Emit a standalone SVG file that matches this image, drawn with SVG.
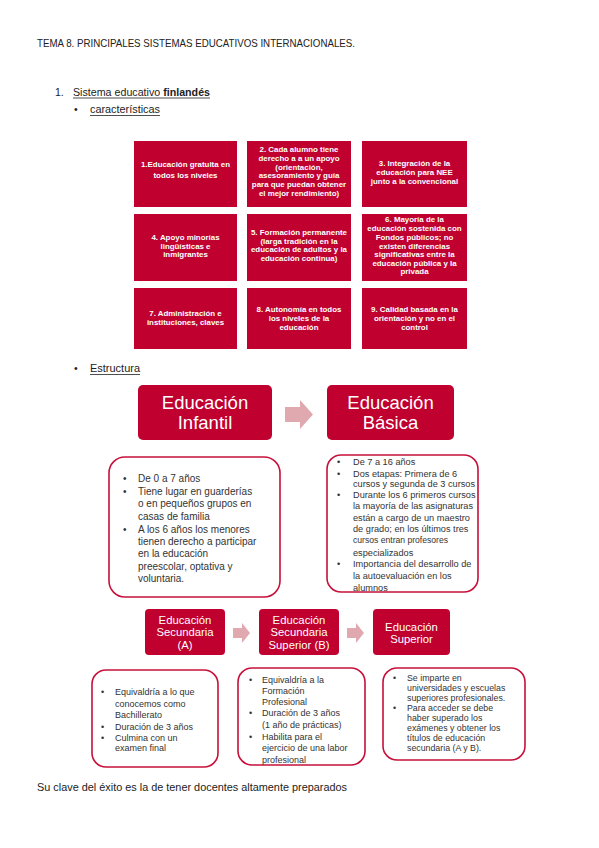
<svg xmlns="http://www.w3.org/2000/svg" width="599" height="848" viewBox="0 0 599 848">
<style>
.doc{font-family:"Liberation Sans","Open Sans",sans-serif;font-size:10.5px;fill:#222}
.cell{fill:#C0002F}
.ct{font-family:"Liberation Sans",Arial,sans-serif;font-size:7.9px;font-weight:bold;fill:#fff;text-anchor:middle}
.flow{fill:#C0002F}
.ft{font-family:"Liberation Sans",Arial,sans-serif;fill:#fff;text-anchor:middle}
.det{fill:#fff;stroke:#C8103A;stroke-width:1.6}
.dt{font-family:"Liberation Sans",Arial,sans-serif;fill:#333}
.arr{fill:#E0A9AF}
</style>
<rect width="599" height="848" fill="#fff"/>
<g id="header">
<text class="doc" x="37" y="47" textLength="318" lengthAdjust="spacingAndGlyphs">TEMA 8. PRINCIPALES SISTEMAS EDUCATIVOS INTERNACIONALES.</text>
<text class="doc" x="55" y="96">1.</text>
<text class="doc" x="73" y="96" textLength="137" lengthAdjust="spacingAndGlyphs">Sistema educativo <tspan font-weight="bold">finlandés</tspan></text>
<line x1="73" y1="98" x2="210" y2="98" stroke="#222" stroke-width="0.8"/>
<text class="doc" x="74" y="113">•</text>
<text class="doc" x="90" y="113" textLength="70" lengthAdjust="spacingAndGlyphs">características</text>
<line x1="90" y1="115.5" x2="160" y2="115.5" stroke="#222" stroke-width="0.8"/>
<text class="doc" x="74" y="372">•</text>
<text class="doc" x="90" y="372" textLength="50" lengthAdjust="spacingAndGlyphs">Estructura</text>
<line x1="90" y1="374.5" x2="140" y2="374.5" stroke="#222" stroke-width="0.8"/>
<text class="doc" x="37" y="791" textLength="310" lengthAdjust="spacingAndGlyphs">Su clave del éxito es la de tener docentes altamente preparados</text>
</g>
<g id="c1"><rect class="cell" x="134" y="141" width="103" height="66"/>
<text class="ct" x="185.5" y="167">1.Educación gratuita en</text><text class="ct" x="185.5" y="178">todos los niveles</text></g>
<g id="c2"><rect class="cell" x="247" y="141" width="104" height="66"/>
<text class="ct" x="299" y="152">2. Cada alumno tiene</text><text class="ct" x="299" y="161">derecho a  a un apoyo</text><text class="ct" x="299" y="169.5">(orientación,</text><text class="ct" x="299" y="178">asesoramiento y guía</text><text class="ct" x="299" y="187">para que puedan obtener</text><text class="ct" x="299" y="195.5">el mejor rendimiento)</text></g>
<g id="c3"><rect class="cell" x="362" y="141" width="105" height="66"/>
<text class="ct" x="414.5" y="166">3. Integración de la</text><text class="ct" x="414.5" y="175">educación para NEE</text><text class="ct" x="414.5" y="184">junto a la convencional</text></g>
<g id="c4"><rect class="cell" x="134" y="214" width="103" height="67"/>
<text class="ct" x="185.5" y="240">4. Apoyo minorías</text><text class="ct" x="185.5" y="248.5">lingüísticas e</text><text class="ct" x="185.5" y="257">inmigrantes</text></g>
<g id="c5"><rect class="cell" x="247" y="214" width="104" height="67"/>
<text class="ct" x="299" y="235">5. Formación permanente</text><text class="ct" x="299" y="243.5">(larga tradición en la</text><text class="ct" x="299" y="252">educación de adultos y la</text><text class="ct" x="299" y="261">educación continua)</text></g>
<g id="c6"><rect class="cell" x="362" y="214" width="105" height="67"/>
<text class="ct" x="414.5" y="222">6. Mayoría de la</text><text class="ct" x="414.5" y="231">educación sostenida con</text><text class="ct" x="414.5" y="240">Fondos públicos; no</text><text class="ct" x="414.5" y="248.5">existen diferencias</text><text class="ct" x="414.5" y="257">significativas entre la</text><text class="ct" x="414.5" y="265.5">educación pública y la</text><text class="ct" x="414.5" y="274">privada</text></g>
<g id="c7"><rect class="cell" x="134" y="288" width="103" height="61"/>
<text class="ct" x="185.5" y="316">7. Administración e</text><text class="ct" x="185.5" y="325">instituciones, claves</text></g>
<g id="c8"><rect class="cell" x="247" y="288" width="104" height="61"/>
<text class="ct" x="299" y="312">8. Autonomía en todos</text><text class="ct" x="299" y="321">los niveles de la</text><text class="ct" x="299" y="329.5">educación</text></g>
<g id="c9"><rect class="cell" x="362" y="288" width="105" height="61"/>
<text class="ct" x="414.5" y="312">9. Calidad basada en la</text><text class="ct" x="414.5" y="321">orientación y no en el</text><text class="ct" x="414.5" y="329.5">control</text></g>

<g id="connectors">
<polygon class="arr" points="285,407 300,407 300,400 313,414.5 300,429 300,422 285,422"/>
<polygon class="arr" points="233,628 242,628 242,623 250,633 242,643 242,638 233,638"/>
<polygon class="arr" points="347,628 356,628 356,623 364,633 356,643 356,638 347,638"/>
</g>

<g id="infantil"><rect class="flow" x="138" y="385" width="134" height="55" rx="5"/>
<text class="ft" x="205" y="409" font-size="18.5">Educación</text><text class="ft" x="205" y="429" font-size="18.5">Infantil</text></g>
<g id="basica"><rect class="flow" x="327" y="385" width="127" height="55" rx="5"/>
<text class="ft" x="390.5" y="409" font-size="18.5">Educación</text><text class="ft" x="390.5" y="429" font-size="18.5">Básica</text></g>

<g id="infantil-det"><rect class="det" x="109" y="457" width="171" height="140" rx="16"/>
<g class="dt" font-size="10">
<text x="123" y="482">•</text><text x="138" y="482">De 0 a 7 años</text>
<text x="123" y="495">•</text><text x="138" y="495">Tiene lugar en guarderías</text>
<text x="138" y="507">o en pequeños grupos en</text>
<text x="138" y="519.5">casas de familia</text>
<text x="123" y="532.5">•</text><text x="138" y="532.5">A los 6 años los menores</text>
<text x="138" y="545">tienen derecho a participar</text>
<text x="138" y="557">en la educación</text>
<text x="138" y="569.5">preescolar, optativa y</text>
<text x="138" y="582">voluntaria.</text>
</g></g>
<g id="basica-det"><rect class="det" x="327" y="455" width="151" height="137" rx="14"/>
<g class="dt" font-size="9.2">
<text x="337" y="465">•</text><text x="353" y="465">De 7 a 16 años</text>
<text x="337" y="476.5">•</text><text x="353" y="476.5">Dos etapas: Primera de 6</text>
<text x="353" y="487">cursos y segunda de 3 cursos</text>
<text x="337" y="497.5">•</text><text x="353" y="497.5">Durante los 6 primeros cursos</text>
<text x="353" y="509">la mayoría de las asignaturas</text>
<text x="353" y="520.5">están a cargo de un maestro</text>
<text x="353" y="532">de grado; en los últimos tres</text>
<text x="353" y="542.5" font-size="8.6">cursos entran profesores</text>
<text x="353" y="555.5">especializados</text>
<text x="337" y="567">•</text><text x="353" y="567">Importancia del desarrollo de</text>
<text x="353" y="578.5">la autoevaluación en los</text>
<text x="353" y="590.5">alumnos</text>
</g></g>

<g id="secA"><rect class="flow" x="145" y="609" width="80" height="46" rx="4"/>
<text class="ft" x="185" y="623.5" font-size="11.3">Educación</text><text class="ft" x="185" y="636" font-size="11.3">Secundaria</text><text class="ft" x="185" y="648.5" font-size="11.3">(A)</text></g>
<g id="secB"><rect class="flow" x="259" y="609" width="80" height="46" rx="4"/>
<text class="ft" x="299" y="623.5" font-size="11.3">Educación</text><text class="ft" x="299" y="636" font-size="11.3">Secundaria</text><text class="ft" x="299" y="648.5" font-size="11.3">Superior (B)</text></g>
<g id="sup"><rect class="flow" x="373" y="609" width="77" height="46" rx="4"/>
<text class="ft" x="411.5" y="630.5" font-size="11.3">Educación</text><text class="ft" x="411.5" y="643" font-size="11.3">Superior</text></g>

<g id="secA-det"><rect class="det" x="92" y="670" width="126" height="97" rx="14"/>
<g class="dt" font-size="9">
<text x="101" y="695">•</text><text x="115" y="695">Equivaldría a lo que</text>
<text x="115" y="707">conocemos como</text>
<text x="115" y="718">Bachillerato</text>
<text x="101" y="730">•</text><text x="115" y="730">Duración de 3 años</text>
<text x="101" y="740.5">•</text><text x="115" y="740.5">Culmina con un</text>
<text x="115" y="751">examen final</text>
</g></g>
<g id="secB-det"><rect class="det" x="238" y="668" width="127" height="97" rx="14"/>
<g class="dt" font-size="9">
<text x="249" y="682.5">•</text><text x="262" y="682.5">Equivaldría a la</text>
<text x="262" y="693.5">Formación</text>
<text x="262" y="705">Profesional</text>
<text x="249" y="716">•</text><text x="262" y="716">Duración de 3 años</text>
<text x="262" y="727.5">(1 año de prácticas)</text>
<text x="249" y="739.5">•</text><text x="262" y="739.5">Habilita para el</text>
<text x="262" y="751">ejercicio de una labor</text>
<text x="262" y="763">profesional</text>
</g></g>
<g id="sup-det"><rect class="det" x="383" y="668" width="142" height="92" rx="14"/>
<g class="dt" font-size="8.8">
<text x="393" y="681">•</text><text x="407" y="681">Se imparte en</text>
<text x="407" y="691">universidades y escuelas</text>
<text x="407" y="701">superiores profesionales.</text>
<text x="393" y="711">•</text><text x="407" y="711">Para acceder se debe</text>
<text x="407" y="721">haber superado los</text>
<text x="407" y="731">exámenes y obtener los</text>
<text x="407" y="741">títulos de educación</text>
<text x="407" y="751">secundaria (A y B).</text>
</g></g>
</svg>
